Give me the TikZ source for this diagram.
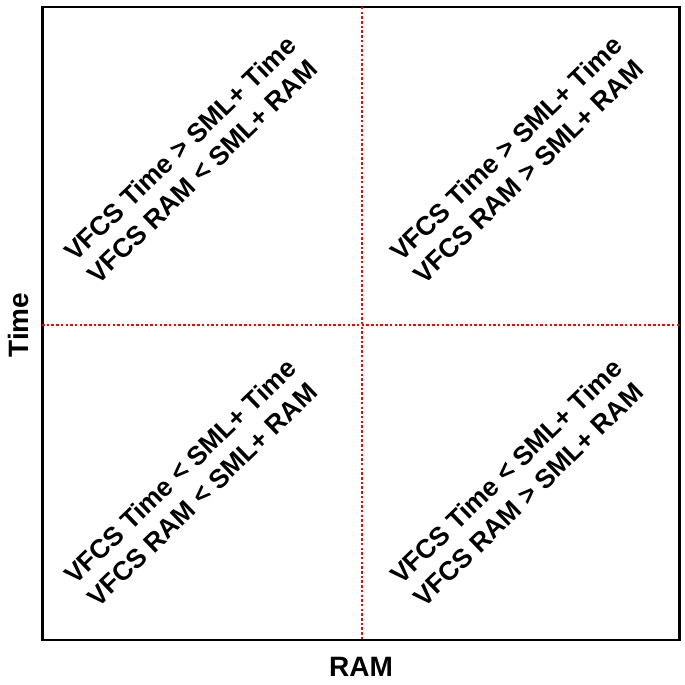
\documentclass[tikz,border=0pt]{standalone}
\usepackage{fontspec}
\setmainfont{Liberation Sans}
\usepackage{tikz}
\usetikzlibrary{calc,positioning}

\begin{document}
\begin{tikzpicture}[x=1pt,y=-1pt,semithick]

   \tikzstyle{quad} =[font=\bfseries\fontsize{26.5}{32}\selectfont,align=center,rotate=44,inner sep=0pt]
   \tikzstyle{axis} =[font=\bfseries\fontsize{28}{32}\selectfont,inner sep=0pt]
   \tikzstyle{split}=[draw=red,line width=2.4pt,dash pattern=on 2.5pt off 2.2pt]

   % page size of the reference
   \useasboundingbox (0,0) rectangle (685,685);

    \node[draw,line width=2.5pt,minimum width=637pt,minimum height=633pt,inner sep=0pt]
    at (361,323.5) (frame){};

    \coordinate (vtop) at (362,7);
    \coordinate (vbot) at (362,640);
    \coordinate (hleft) at (42,325);
    \coordinate (hright) at (680,325);

    \draw [split] (vtop) -- (vbot);
    \draw [split] (hleft) -- (hright);

    \node[axis,rotate=90] (ylab) at (18,325) {Time};
    \node[axis] (xlab) at (361,667) {RAM};

    \node[quad] (tl) at (191,160) {VFCS Time > SML+ Time\\VFCS RAM < SML+ RAM};
    \node[quad] (tr) at (517,160) {VFCS Time > SML+ Time\\VFCS RAM > SML+ RAM};
    \node[quad] (bl) at (191,483) {VFCS Time < SML+ Time\\VFCS RAM < SML+ RAM};
    \node[quad] (br) at (517,483) {VFCS Time < SML+ Time\\VFCS RAM > SML+ RAM};

\end{tikzpicture}
\end{document}
